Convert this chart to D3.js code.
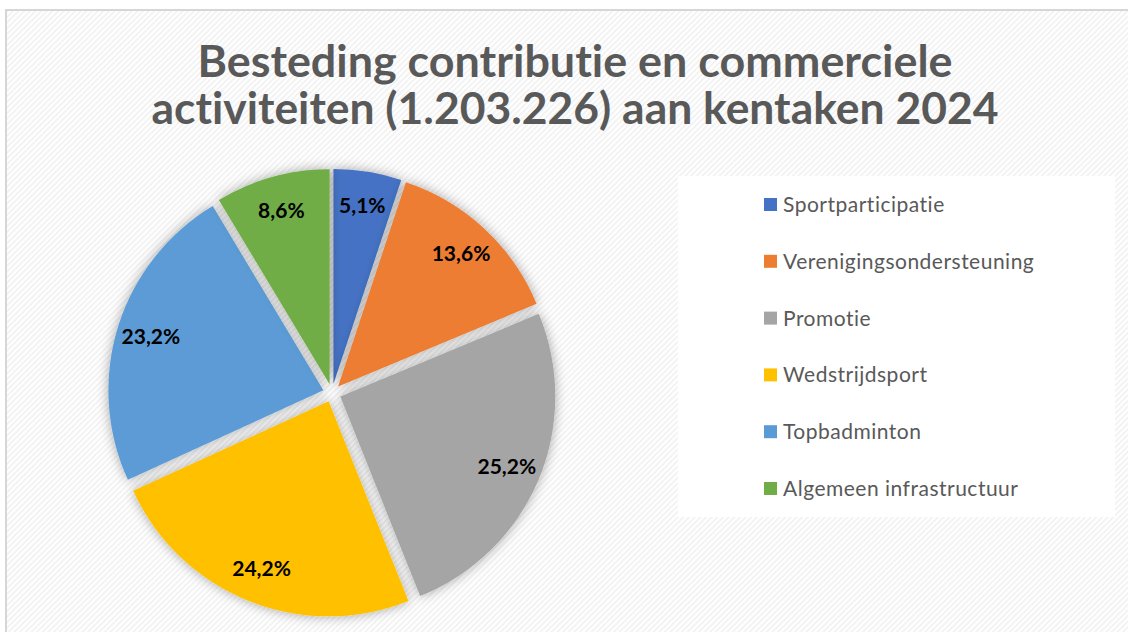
<!DOCTYPE html>
<html>
<head>
<meta charset="utf-8">
<script src="https://cdn.jsdelivr.net/npm/d3@7.9.0/dist/d3.min.js"></script>
<style>
  html, body { margin: 0; padding: 0; background: #fff; }
  svg { display: block; }
  text { font-variant-ligatures: none; font-feature-settings: "liga" 0; }
</style>
</head>
<body>
<svg id="chart" width="1128" height="632"></svg>
<script>
const titleLines = ["Besteding contributie en commerciele", "activiteiten (1.203.226) aan kentaken 2024"];
const categories = ["Sportparticipatie", "Verenigingsondersteuning", "Promotie", "Wedstrijdsport", "Topbadminton", "Algemeen infrastructuur"];
const values = [5.1, 13.6, 25.2, 24.2, 23.2, 8.6];
const labels = ["5,1%", "13,6%", "25,2%", "24,2%", "23,2%", "8,6%"];
const colors = ["#4472C4", "#ED7D31", "#A5A5A5", "#FFC000", "#5B9BD5", "#70AD47"];

const svg = d3.select("#chart");
const W = 1128, H = 632;

// background + stripes
const defs = svg.append("defs");
const pat = defs.append("pattern")
    .attr("id", "stripes")
    .attr("width", 4).attr("height", 4)
    .attr("patternUnits", "userSpaceOnUse")
    .attr("patternTransform", "rotate(45)");
pat.append("rect").attr("width", 4).attr("height", 4).attr("fill", "#ffffff");
pat.append("rect").attr("width", 2).attr("height", 4).attr("fill", "#f3f3f3");

const shadow = defs.append("filter").attr("id", "shadow")
    .attr("x", "-30%").attr("y", "-30%").attr("width", "160%").attr("height", "160%");
shadow.append("feDropShadow")
    .attr("dx", 0).attr("dy", 0).attr("stdDeviation", 6)
    .attr("flood-color", "#000").attr("flood-opacity", 0.35);

svg.append("rect").attr("width", W).attr("height", H).attr("fill", "#fff");
svg.append("rect")
    .attr("x", 6).attr("y", 10).attr("width", W).attr("height", H)
    .attr("fill", "url(#stripes)")
    .attr("stroke", "#d6d6d6").attr("stroke-width", 2);

// title
const title = svg.append("g");
titleLines.forEach((t, i) => {
    title.append("text")
        .attr("x", 575)
        .attr("y", 77 + i * 47)
        .attr("text-anchor", "middle")
        .attr("textLength", i === 0 ? 755 : 847)
        .attr("lengthAdjust", "spacingAndGlyphs")
        .style("font-family", "Lato, 'Open Sans', sans-serif")
        .style("font-weight", "bold")
        .style("font-size", "44px")
        .style("fill", "#595959")
        .text(t);
});

// pie
const cx = 332, cy = 393, r = 215, explode = 9;
const pie = d3.pie().sort(null).value(d => d)(values);
const arc = d3.arc().innerRadius(0).outerRadius(r);

const g = svg.append("g").attr("transform", `translate(${cx},${cy})`);

const slices = g.selectAll(".slice")
    .data(pie)
    .enter().append("g")
    .attr("class", "slice")
    .attr("transform", d => {
        const a = (d.startAngle + d.endAngle) / 2;
        return `translate(${Math.sin(a) * explode},${-Math.cos(a) * explode})`;
    });

slices.append("path")
    .attr("d", arc)
    .attr("fill", (d, i) => colors[i])
    .attr("filter", "url(#shadow)");

slices.append("text")
    .attr("transform", d => {
        const a = (d.startAngle + d.endAngle) / 2;
        const lr = r * 0.84;
        return `translate(${Math.sin(a) * lr},${-Math.cos(a) * lr})`;
    })
    .attr("text-anchor", "middle")
    .attr("dy", "0.35em")
    .style("font-family", "Lato, sans-serif")
    .style("font-weight", "bold")
    .style("font-size", "21px")
    .style("fill", "#000")
    .text((d, i) => labels[i]);

// legend
svg.append("rect")
    .attr("x", 678).attr("y", 176)
    .attr("width", 437).attr("height", 341)
    .attr("fill", "#fff");

const ly = d3.scalePoint().domain(categories).range([212, 496]);
const legend = svg.append("g");
categories.forEach((c, i) => {
    legend.append("rect")
        .attr("x", 764).attr("y", ly(c) - 14)
        .attr("width", 13).attr("height", 13)
        .attr("fill", colors[i]);
    legend.append("text")
        .attr("x", 783).attr("y", ly(c))
        .style("font-family", "Lato, sans-serif")
        .style("font-size", "21px")
        .style("letter-spacing", "0.5px")
        .style("fill", "#595959")
        .text(c);
});
</script>
</body>
</html>
